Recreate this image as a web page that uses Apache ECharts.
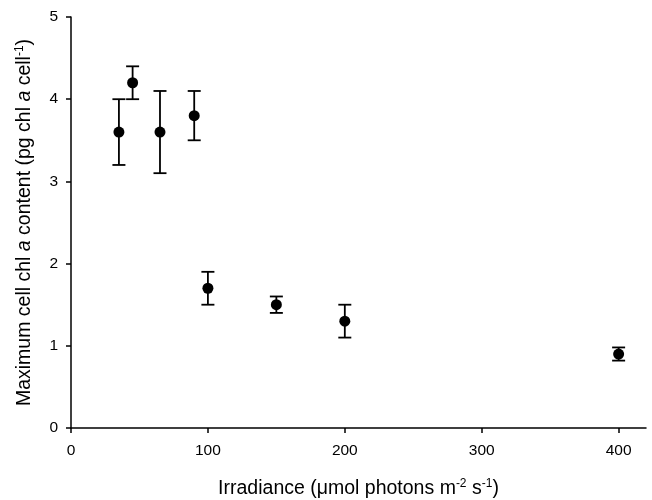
<!DOCTYPE html>
<html>
<head>
	<meta charset="utf-8">
	<script src="https://cdn.jsdelivr.net/npm/echarts@6/dist/echarts.min.js"></script>
	<title>chl a</title>
	<style>
		html, body { margin: 0; padding: 0; background: #fff; }
		#c { width: 652px; height: 500px; }
	</style>
</head>
<body>
	<div id="c"></div>
	<script>
		// irradiance levels and chl a content with error bar ends
		var irradiance = [35, 45, 65, 90, 100, 150, 200, 400];
		var chlMean = [3.6, 4.2, 3.6, 3.8, 1.7, 1.5, 1.3, 0.9];
		var chlLow = [3.2, 4.0, 3.1, 3.5, 1.5, 1.4, 1.1, 0.82];
		var chlHigh = [4.0, 4.4, 4.1, 4.1, 1.9, 1.6, 1.5, 0.98];
		var xTicks = [0, 100, 200, 300, 400];

		var pts = [], bars = [];
		for (var i = 0; i < irradiance.length; i++) {
			pts.push([irradiance[i], chlMean[i]]);
			bars.push([irradiance[i], chlLow[i], chlHigh[i]]);
		}

		var font = 'Liberation Sans, Arial, sans-serif';
		var myChart = echarts.init(document.getElementById('c'));
		var option = {
			animation: false,
			backgroundColor: '#fff',
			grid: { left: 71, right: 6, top: 17, bottom: 72, containLabel: false, outerBoundsMode: 'none' },
			xAxis: {
				type: 'value',
				min: 0, max: 420,
				interval: 100,
				name: 'Irradiance (μmol photons m{sup|-2} s{sup|-1})',
				nameLocation: 'middle',
				nameGap: 50,
				nameTextStyle: {
					fontFamily: font, fontSize: 19.5, color: '#000',
					rich: { sup: { fontSize: 12, verticalAlign: 'top', fontFamily: font, color: '#000', padding: [0, 0, 9, 0] } }
				},
				splitLine: { show: false },
				axisLine: { lineStyle: { color: '#000', width: 1.5 } },
				axisTick: { customValues: xTicks, length: 5, lineStyle: { color: '#000', width: 1.5 } },
				axisLabel: { customValues: xTicks, margin: 15, fontFamily: font, fontSize: 15.5, color: '#000' }
			},
			yAxis: {
				type: 'value',
				min: 0, max: 5,
				interval: 1,
				name: 'Maximum cell chl {it|a} content (pg chl {it|a} cell{sup|-1})',
				nameLocation: 'middle',
				nameGap: 36,
				nameTextStyle: {
					fontFamily: font, fontSize: 19.5, color: '#000',
					rich: {
						it: { fontStyle: 'italic', fontSize: 19.5, fontFamily: font, color: '#000' },
						sup: { fontSize: 12, verticalAlign: 'top', fontFamily: font, color: '#000', padding: [0, 0, 9, 0] }
					}
				},
				splitLine: { show: false },
				axisLine: { lineStyle: { color: '#000', width: 1.5 } },
				axisTick: { length: 5, lineStyle: { color: '#000', width: 1.5 } },
				axisLabel: { margin: 13, fontFamily: font, fontSize: 15.5, color: '#000' }
			},
			series: [
				{
					type: 'custom',
					data: bars,
					encode: { x: 0, y: [1, 2] },
					renderItem: function (params, api) {
						var x = api.value(0);
						var lo = api.coord([x, api.value(1)]);
						var hi = api.coord([x, api.value(2)]);
						var w = 6.5;
						var st = { stroke: '#000', lineWidth: 1.8 };
						return {
							type: 'group',
							children: [
								{ type: 'line', shape: { x1: lo[0], y1: lo[1], x2: hi[0], y2: hi[1] }, style: st },
								{ type: 'line', shape: { x1: lo[0] - w, y1: lo[1], x2: lo[0] + w, y2: lo[1] }, style: st },
								{ type: 'line', shape: { x1: hi[0] - w, y1: hi[1], x2: hi[0] + w, y2: hi[1] }, style: st }
							]
						};
					},
					z: 2
				},
				{
					type: 'scatter',
					data: pts,
					symbol: 'circle',
					symbolSize: 11,
					itemStyle: { color: '#000', opacity: 1 },
					z: 3
				}
			]
		};
		myChart.setOption(option);
	</script>
</body>
</html>
